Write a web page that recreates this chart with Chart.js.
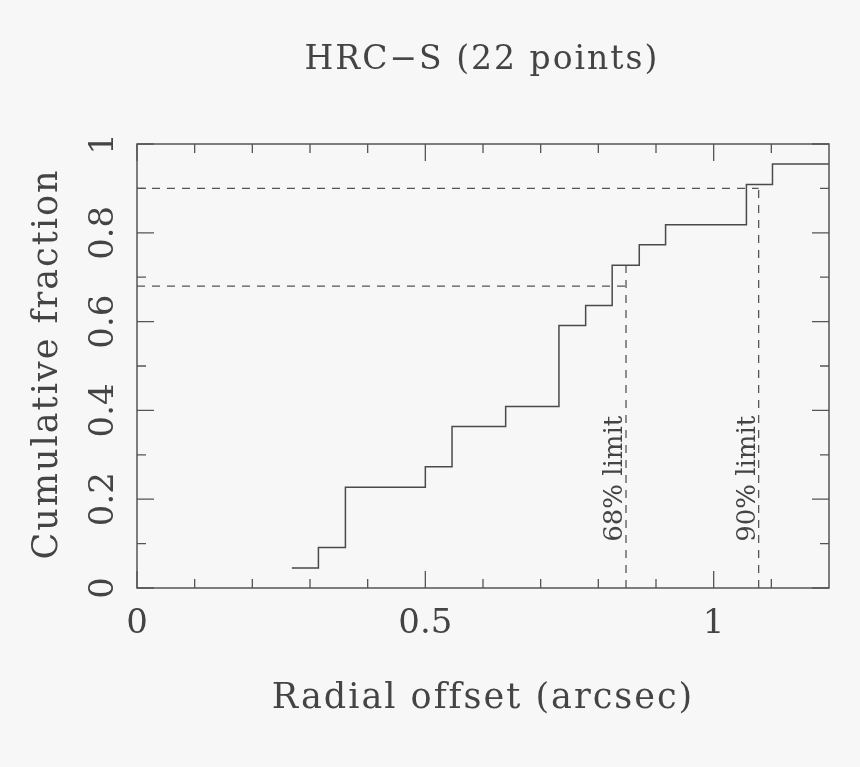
<!DOCTYPE html>
<html>
<head>
<meta charset="utf-8">
<script src="https://cdn.jsdelivr.net/npm/chart.js@4.4.1/dist/chart.umd.min.js"></script>
<style>
  html, body { margin: 0; padding: 0; background: #f7f7f7; }
  #wrap { width: 860px; height: 767px; }
</style>
</head>
<body>
<div id="wrap"><canvas id="c" width="860" height="767"></canvas></div>
<script>
// ---- data ----
const chartTitle = 'HRC\u2212S (22 points)';
const xTitle = 'Radial offset (arcsec)';
const yTitle = 'Cumulative fraction';

// step positions (arcsec) and cumulative fraction reached at each step
const radialOffsets = [0.2685, 0.3146, 0.3614, 0.5000, 0.5463, 0.6393, 0.7317, 0.7780, 0.8240, 0.8710, 0.9166, 1.0568, 1.1020];
const cumulativeFractions = [0.045, 0.091, 0.227, 0.273, 0.364, 0.409, 0.591, 0.636, 0.727, 0.773, 0.818, 0.909, 0.955];

// confidence limits
const limitLabels = ['68% limit', '90% limit'];
const limitFractions = [0.68, 0.90];
const limitRadii = [0.848, 1.078];
const limitCurveValues = [0.727, 0.909];
const limitLabelStart = 0.104;

// axes
const xRange = [0, 1.2];
const yRange = [0, 1];
const xTickValues = [0, 0.5, 1];
const xTickLabels = ['0', '0.5', '1'];
const xMinorTicks = [0.1, 0.2, 0.3, 0.4, 0.6, 0.7, 0.8, 0.9, 1.1];
const yTickValues = [0, 0.2, 0.4, 0.6, 0.8, 1];
const yTickLabels = ['0', '0.2', '0.4', '0.6', '0.8', '1'];
const yMinorTicks = [0.1, 0.3, 0.5, 0.7, 0.9];

// ---- build datasets ----
const stepPoints = radialOffsets.map((x, i) => ({ x: x, y: cumulativeFractions[i] }));
stepPoints.push({ x: xRange[1], y: cumulativeFractions[cumulativeFractions.length - 1] });

const datasets = [{
  data: stepPoints,
  stepped: true,
  borderColor: '#4a4a4a',
  borderWidth: 1.5,
  pointRadius: 0,
  fill: false
}];
limitFractions.forEach((f, i) => {
  datasets.push({
    data: [{ x: xRange[0], y: f }, { x: limitRadii[i], y: f }],
    borderColor: '#555',
    borderWidth: 1.3,
    borderDash: [8, 7],
    pointRadius: 0,
    fill: false
  });
  datasets.push({
    data: [{ x: limitRadii[i], y: yRange[0] }, { x: limitRadii[i], y: limitCurveValues[i] }],
    borderColor: '#555',
    borderWidth: 1.3,
    borderDash: [8, 7],
    pointRadius: 0,
    fill: false
  });
});

const FONT = '"DejaVu Serif", "Liberation Serif", serif';
const TEXT = '#444';

const framePlugin = {
  id: 'frame',
  afterDraw(chart) {
    const ctx = chart.ctx;
    const xs = chart.scales.x, ys = chart.scales.y;
    const a = chart.chartArea;
    ctx.save();
    // frame
    ctx.strokeStyle = '#555';
    ctx.lineWidth = 1.5;
    ctx.setLineDash([]);
    ctx.strokeRect(a.left, a.top, a.right - a.left, a.bottom - a.top);
    // ticks
    ctx.lineWidth = 1.3;
    const tickX = (v, len) => {
      const px = xs.getPixelForValue(v);
      ctx.beginPath();
      ctx.moveTo(px, a.bottom); ctx.lineTo(px, a.bottom - len);
      ctx.moveTo(px, a.top); ctx.lineTo(px, a.top + len);
      ctx.stroke();
    };
    const tickY = (v, len) => {
      const py = ys.getPixelForValue(v);
      ctx.beginPath();
      ctx.moveTo(a.left, py); ctx.lineTo(a.left + len, py);
      ctx.moveTo(a.right, py); ctx.lineTo(a.right - len, py);
      ctx.stroke();
    };
    xTickValues.forEach(v => tickX(v, 17));
    xMinorTicks.forEach(v => tickX(v, 9));
    yTickValues.forEach(v => tickY(v, 17));
    yMinorTicks.forEach(v => tickY(v, 9));

    ctx.fillStyle = TEXT;
    // x tick labels
    ctx.font = '34px ' + FONT;
    ctx.textAlign = 'center';
    ctx.textBaseline = 'alphabetic';
    xTickValues.forEach((v, i) => {
      ctx.fillText(xTickLabels[i], xs.getPixelForValue(v), 633);
    });
    // y tick labels (rotated)
    yTickValues.forEach((v, i) => {
      ctx.save();
      ctx.translate(113, ys.getPixelForValue(v));
      ctx.rotate(-Math.PI / 2);
      ctx.fillText(yTickLabels[i], 0, 0);
      ctx.restore();
    });
    // titles
    ctx.letterSpacing = '2px';
    ctx.font = '33px ' + FONT;
    ctx.fillText(chartTitle, 482, 69);
    ctx.font = '35px ' + FONT;
    ctx.fillText(xTitle, 483, 708);
    ctx.save();
    ctx.translate(57, 364);
    ctx.rotate(-Math.PI / 2);
    ctx.fillText(yTitle, 0, 0);
    ctx.restore();
    // limit labels
    ctx.letterSpacing = '0px';
    ctx.font = '26px ' + FONT;
    ctx.textAlign = 'left';
    limitLabels.forEach((t, i) => {
      ctx.save();
      ctx.translate(xs.getPixelForValue(limitRadii[i]) - 4, ys.getPixelForValue(limitLabelStart));
      ctx.rotate(-Math.PI / 2);
      ctx.fillText(t, 0, 0);
      ctx.restore();
    });
    ctx.restore();
  }
};

new Chart(document.getElementById('c'), {
  type: 'line',
  data: { datasets: datasets },
  options: {
    responsive: false,
    animation: false,
    layout: { padding: { left: 137, top: 144, right: 31, bottom: 179 } },
    plugins: { legend: { display: false }, tooltip: { enabled: false }, title: { display: false } },
    scales: {
      x: { type: 'linear', min: xRange[0], max: xRange[1], display: false },
      y: { type: 'linear', min: yRange[0], max: yRange[1], display: false }
    }
  },
  plugins: [framePlugin]
});
</script>
</body>
</html>
